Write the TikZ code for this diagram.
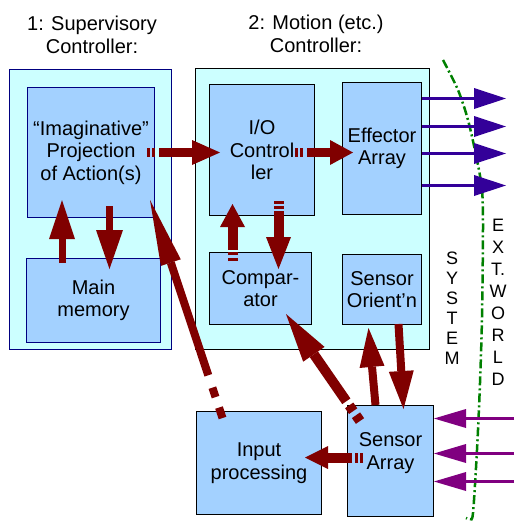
\documentclass[tikz,border=0pt]{standalone}
\usepackage{fontspec}
\setmainfont{Liberation Sans}
\usetikzlibrary{arrows.meta}
\definecolor{cpanel}{HTML}{CCFFFF}
\definecolor{cunit}{HTML}{A3D1FF}
\definecolor{cnavy}{HTML}{000080}
\definecolor{cflow}{HTML}{800000}
\definecolor{cblue}{HTML}{330099}
\definecolor{cpurple}{HTML}{800080}
\definecolor{cedge}{HTML}{008000}

\begin{document}
\begin{tikzpicture}[x=1pt,y=-1pt,font=\fontsize{20}{22.5}\selectfont,
  panel/.style={draw=#1,fill=cpanel,line width=1pt,anchor=north west,inner sep=0pt},
  unit/.style={draw=#1,fill=cunit,line width=1pt,anchor=north west,align=center,inner sep=0pt},
  fat/.style n args={3}{draw=cflow,line width=#1,-{Triangle[length=#2,width=#3,line width=0pt]}},
  outflow/.style={draw=cblue,line width=3pt,-{Triangle[length=32pt,width=21pt,line width=0pt]}},
  inflow/.style={draw=cpurple,line width=3pt,-{Triangle[length=32pt,width=19pt,line width=0pt]}}]
  \useasboundingbox (0,0) rectangle (525,525);

  \node[panel=cnavy,minimum width=162pt,minimum height=280pt] (sup) at (9,69) {};
  \node[panel=black,minimum width=234pt,minimum height=281pt] (mot) at (195,68) {};

  \node[align=center] (suptitle) at (92,35) {1: Supervisory\\Controller:};
  \node[align=center] (mottitle) at (316,34) {2: Motion (etc.)\\Controller:};

  \node[unit=cnavy,minimum width=127pt,minimum height=130pt] (imag) at (27,87) {“Imaginative”\\Projection\\of Action(s)};
  \node[unit=cnavy,minimum width=134pt,minimum height=84pt] (mem) at (26,258) {Main\\memory};
  \node[unit=black,minimum width=105pt,minimum height=131pt] (io) at (209,84) {I/O\\Control\\ler};
  \node[unit=black,minimum width=79pt,minimum height=132pt] (eff) at (342,82) {Effector\\Array};
  \node[unit=black,minimum width=102pt,minimum height=72pt] (comp) at (209,252) {Compar-\\ator};
  \node[unit=black,minimum width=79pt,minimum height=70pt] (orient) at (342,254) {Sensor\\Orient'n};
  \node[unit=black,minimum width=125pt,minimum height=103pt] (inp) at (196,411) {Input\\processing};
  \node[unit=black,minimum width=86pt,minimum height=111pt] (sens) at (347,405) {};
  \node[align=center] (senstext) at ([yshift=8pt]sens.center) {Sensor\\Array};

  \node[align=center,font=\fontsize{18}{20}\selectfont] (sys) at (452,308) {S\\Y\\S\\T\\E\\M};
  \node[align=center,font=\fontsize{18}{22}\selectfont] (ext) at (498,302) {E\\X\\T.\\W\\O\\R\\L\\D};

  \draw[cedge,line width=2.5pt,dash pattern=on 9pt off 3pt on 2pt off 3pt] plot[smooth] coordinates {(443,60) (458,90) (468,120) (477,160) (482,190) (483,227) (482,317) (480,383) (477,450) (473,513) (470,519) (466,518)};

  \foreach \dy in {50,22,-5,-37}
    \draw[outflow] ([yshift=\dy pt]eff.east) -- ++(84,0);
  \foreach \dy in {42.5,7.5,-20.5}
    \draw[inflow] ([xshift=80pt,yshift=\dy pt]sens.east) -- ([yshift=\dy pt]sens.east);

  \draw[fat={9pt}{28pt}{25pt},dash pattern=on 3pt off 2pt on 3pt off 4pt on 500pt] ([xshift=-8pt]imag.east) -- ([xshift=11pt]imag.east -| io.west);
  \draw[fat={9pt}{23pt}{25pt},dash pattern=on 3pt off 2pt on 3pt off 4pt on 500pt] ([xshift=-20pt,yshift=-2.5pt]io.east) -- ([xshift=11pt,yshift=-4pt]eff.west);
  \draw[fat={7pt}{39pt}{26pt}] ([xshift=-31.5pt,yshift=-5pt]mem.north) -- ([xshift=-29pt,yshift=18pt]imag.south);
  \draw[fat={7pt}{39pt}{27pt}] ([xshift=18.5pt,yshift=12pt]imag.south) -- ([xshift=16pt,yshift=-11pt]mem.north);
  \draw[fat={10pt}{23pt}{25pt},dash pattern=on 3pt off 3pt on 3pt off 2pt on 500pt] ([xshift=-28pt,yshift=-9pt]comp.north) -- ([xshift=-29.5pt,yshift=12pt]io.south);
  \draw[fat={10pt}{32pt}{25pt},dash pattern=on 3pt off 2pt on 3pt off 2pt on 500pt] ([xshift=16.5pt,yshift=15pt]io.south) -- ([xshift=18pt,yshift=-17pt]comp.north);
  \draw[fat={8pt}{66pt}{21pt},dash pattern=on 11pt off 11pt on 10pt off 13pt on 500pt] ([xshift=-36.5pt,yshift=-7pt]inp.north) -- ([xshift=-5pt,yshift=18pt]imag.south east);
  \draw[fat={10pt}{49pt}{26pt},dash pattern=on 7pt off 5pt on 7pt off 5pt on 500pt] ([xshift=13pt,yshift=-16pt]sens.north west) -- ([xshift=-26pt,yshift=11pt]comp.south east);
  \draw[fat={8pt}{39pt}{25pt}] ([xshift=-15pt]sens.north) -- ([xshift=-13.5pt,yshift=-3pt]orient.south);
  \draw[fat={8pt}{38pt}{25pt}] ([xshift=16.5pt,yshift=1pt]orient.south) -- ([xshift=13pt,yshift=-4pt]sens.north);
  \draw[fat={10pt}{23pt}{23pt},dash pattern=on 3pt off 2pt on 3pt off 3pt on 500pt] ([xshift=16pt,yshift=3.5pt]sens.west) -- ([xshift=-17pt,yshift=5.5pt]inp.east);
\end{tikzpicture}
\end{document}
